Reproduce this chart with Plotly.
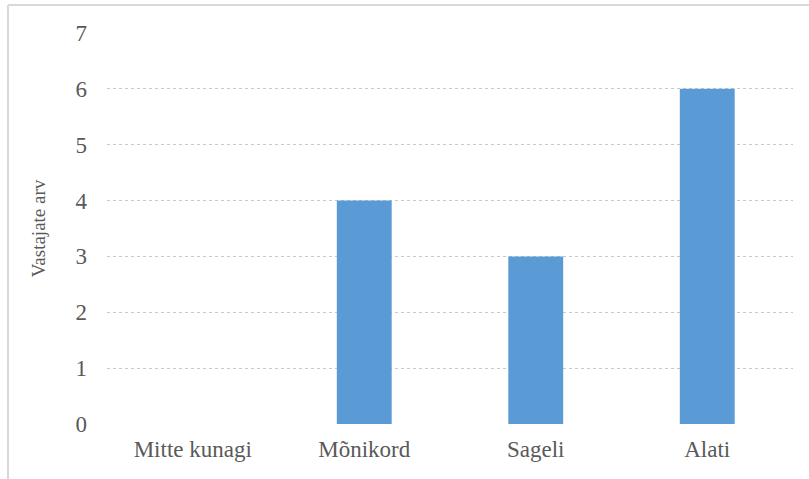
import plotly.graph_objects as go

# Survey answers: how often, and number of respondents
categories = ["Mitte kunagi", "Mõnikord", "Sageli", "Alati"]
respondents = [0, 4, 3, 6]
y_ticks = [0, 1, 2, 3, 4, 5, 6, 7]

W, H = 809, 479
ml, mr, mt, mb = 107, 16, 33, 55
pw, ph = W - ml - mr, H - mt - mb

def px_to_paper_x(px):
    return (px - ml) / pw

def px_to_paper_y(py):
    return (H - mb - py) / ph

text_color = "#595959"
font = "Liberation Serif"

fig = go.Figure(
    go.Bar(
        x=categories,
        y=respondents,
        marker=dict(color="#5B9BD5", line=dict(width=0)),
        hoverinfo="x+y",
    )
)

frame_color = "#D9D9D9"
fig.update_layout(
    width=W,
    height=H,
    margin=dict(l=ml, r=mr, t=mt, b=mb),
    paper_bgcolor="white",
    plot_bgcolor="white",
    bargap=0.68,
    showlegend=False,
    font=dict(family=font, color=text_color, size=23),
    xaxis=dict(
        showgrid=False,
        showline=False,
        zeroline=False,
        ticks="",
        tickfont=dict(family=font, size=23, color=text_color),
        ticklabelstandoff=9,
    ),
    yaxis=dict(
        range=[0, 7],
        tickvals=y_ticks,
        showgrid=True,
        gridcolor="#C8C8C8",
        griddash="dot",
        gridwidth=1,
        zeroline=False,
        showline=False,
        ticks="",
        tickfont=dict(family=font, size=23, color=text_color),
        ticklabelstandoff=19,
        title=dict(text="Vastajate arv", font=dict(family=font, size=19, color=text_color), standoff=24),
    ),
    shapes=[
        dict(type="line", xref="paper", yref="paper",
             x0=px_to_paper_x(8), x1=px_to_paper_x(W), y0=px_to_paper_y(5), y1=px_to_paper_y(5),
             line=dict(color=frame_color, width=2)),
        dict(type="line", xref="paper", yref="paper",
             x0=px_to_paper_x(8), x1=px_to_paper_x(8), y0=px_to_paper_y(5), y1=px_to_paper_y(H),
             line=dict(color=frame_color, width=2)),
    ],
)

fig.write_html("out.html")
